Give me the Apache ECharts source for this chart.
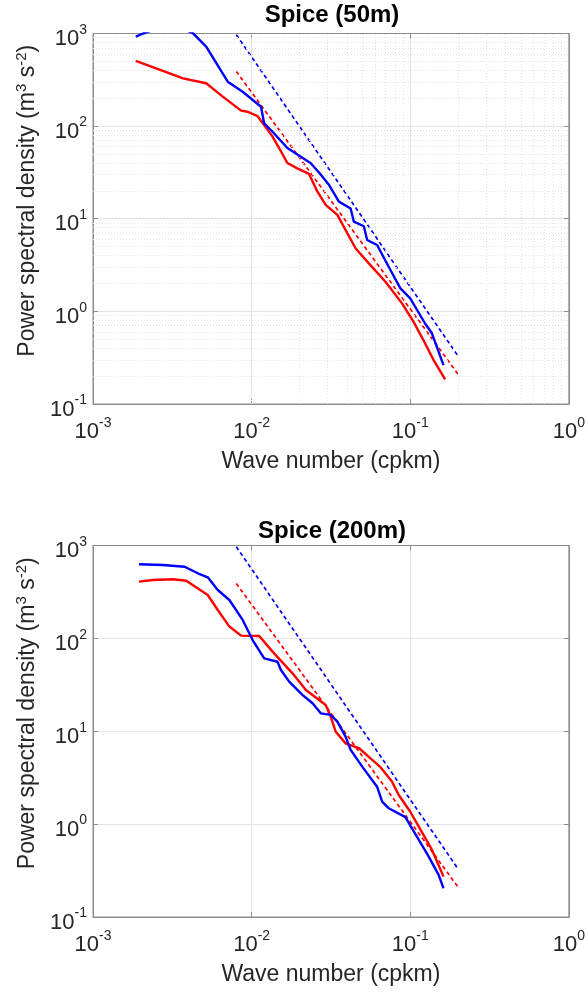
<!DOCTYPE html>
<html>
<head>
<meta charset="utf-8">
<script src="https://cdn.jsdelivr.net/npm/echarts@6/dist/echarts.min.js"></script>
<style>html,body{margin:0;padding:0;background:#fff;}#c{width:588px;height:994px;}</style>
</head>
<body>
<div id="c"></div>
<script>
// ---- Data (wave number in cpkm, PSD in m^3 s^-2) ----
const titles = ['Spice (50m)', 'Spice (200m)'];
const xTicks = [0.001, 0.01, 0.1, 1];
const yTicks = [0.1, 1, 10, 100, 1000];

// Top panel (50 m)
const k50Red = [0.00186, 0.00304, 0.00369, 0.00517, 0.00658, 0.00858, 0.00944, 0.0109, 0.0120, 0.01355, 0.0149, 0.0168, 0.0194, 0.0230, 0.0260, 0.0293, 0.0347, 0.0452, 0.0548, 0.0698, 0.0887, 0.105, 0.121, 0.140, 0.166];
const p50Red = [505, 372, 328, 290, 208, 147, 143, 128, 103, 77, 58, 40, 35, 30.5, 19.6, 14.1, 11.0, 4.8, 3.3, 2.09, 1.22, 0.77, 0.49, 0.30, 0.184];
const k50Blue = [0.00186, 0.00207, 0.0026, 0.0034, 0.00426, 0.00517, 0.00707, 0.00878, 0.01146, 0.0120, 0.01355, 0.0168, 0.0235, 0.0266, 0.0308, 0.0355, 0.0421, 0.0441, 0.0510, 0.0535, 0.0618, 0.075, 0.0867, 0.100, 0.124, 0.137, 0.162];
const p50Blue = [923, 1000, 1150, 1200, 1010, 720, 302, 235, 162, 107, 87, 58, 40, 31.6, 23.1, 15.3, 12.9, 9.3, 8.3, 5.9, 5.2, 2.8, 1.77, 1.38, 0.74, 0.58, 0.263];

// Bottom panel (200 m)
const k200Red = [0.00195, 0.00239, 0.00319, 0.00387, 0.00529, 0.00612, 0.00724, 0.00858, 0.01117, 0.01355, 0.0181, 0.0220, 0.0266, 0.0293, 0.0315, 0.0339, 0.0391, 0.0474, 0.0548, 0.0649, 0.0767, 0.0846, 0.100, 0.118, 0.137, 0.162];
const p200Red = [408, 425, 433, 418, 293, 202, 134, 107, 106, 72, 42, 27.8, 21.7, 19.2, 14.4, 9.9, 7.4, 6.6, 5.3, 4.1, 2.87, 2.06, 1.36, 0.83, 0.53, 0.272];
const k200Blue = [0.00195, 0.00276, 0.00378, 0.00458, 0.00529, 0.00612, 0.00724, 0.00878, 0.01015, 0.0120, 0.01456, 0.0153, 0.01725, 0.0209, 0.0242, 0.0273, 0.0315, 0.0347, 0.0391, 0.0421, 0.0498, 0.0618, 0.0665, 0.0732, 0.0932, 0.113, 0.1305, 0.151, 0.162];
const p200Blue = [628, 617, 591, 502, 455, 332, 259, 158, 96, 61, 56, 45.7, 34.2, 24.6, 20.0, 15.6, 15.0, 12.7, 8.75, 6.3, 4.16, 2.53, 1.75, 1.48, 1.19, 0.68, 0.45, 0.284, 0.204];

// Reference slopes (dashed straight lines in log-log)
const kFitRed = [0.008, 0.2];
const pFitRed = [390, 0.21];
const kFitBlue = [0.008, 0.2];
const pFitBlue = [970, 0.33];

// Minor grid positions (top panel)
const xMinor = [2,3,4,5,6,7,8,9].flatMap(m => [m*0.001, m*0.01, m*0.1]);
const yMinor = [2,3,4,5,6,7,8,9].flatMap(m => [m*0.1, m*1, m*10, m*100]);

// ---- Chart ----
const FONT = 'Liberation Sans';
const TXT = '#262626';
const zip = (a, b) => a.map((v, i) => [v, b[i]]);
const supLabel = v => '{b|10}{s|' + Math.round(Math.log10(v)) + '}';
const xRich = {
  b: {fontSize: 22, fontFamily: FONT, color: TXT},
  s: {fontSize: 14, fontFamily: FONT, color: TXT, padding: [0, 0, 18, 0]}
};
const yRich = {
  b: {fontSize: 22, fontFamily: FONT, color: TXT, padding: [11, 0, 0, 0]},
  s: {fontSize: 14, fontFamily: FONT, color: TXT, padding: [0, 0, 7, 0]}
};
const nameRich = {
  a: {fontSize: 23, fontFamily: FONT, color: TXT},
  s: {fontSize: 15, fontFamily: FONT, color: TXT, padding: [0, 0, 12, 0]}
};
const AX = '#8c8c8c';
const grids = [
  {left: 93, top: 33.5, width: 478, height: 370.5, show: true, borderColor: AX, borderWidth: 1, backgroundColor: '#fff'},
  {left: 93, top: 545.5, width: 478, height: 371.5, show: true, borderColor: AX, borderWidth: 1, backgroundColor: '#fff'}
];
const xAxes = [], yAxes = [];
grids.forEach((g, gi) => {
  xAxes.push({
    type: 'log', logBase: 10, min: 0.001, max: 1, gridIndex: gi, position: 'bottom',
    name: 'Wave number (cpkm)', nameLocation: 'middle', nameGap: 46,
    nameTextStyle: {fontSize: 23, fontFamily: FONT, color: TXT},
    axisLine: {show: true, lineStyle: {color: AX}},
    axisTick: {show: true, inside: true, length: 5, lineStyle: {color: AX}},
    axisLabel: {formatter: supLabel, rich: xRich, margin: 12},
    splitLine: {show: true, lineStyle: {color: '#e3e3e3', width: 1}}
  });
  yAxes.push({
    type: 'log', logBase: 10, min: 0.1, max: 1000, gridIndex: gi, position: 'left',
    name: '{a|Power spectral density (m}{s|3}{a| s}{s|-2}{a|)}', nameLocation: 'middle', nameGap: 52,
    nameTextStyle: {rich: nameRich, padding: [0, 0, 0, 36]},
    axisLine: {show: true, lineStyle: {color: AX}},
    axisTick: {show: true, inside: true, length: 5, lineStyle: {color: AX}},
    axisLabel: {formatter: supLabel, rich: yRich, margin: 6},
    splitLine: {show: true, lineStyle: {color: '#e3e3e3', width: 1}}
  });
});
// box axes (top / right) with inward ticks, no labels
grids.forEach((g, gi) => {
  xAxes.push({
    type: 'log', logBase: 10, min: 0.001, max: 1, gridIndex: gi, position: 'top',
    axisLine: {show: true, lineStyle: {color: AX}},
    axisTick: {show: true, inside: true, length: 5, lineStyle: {color: AX}},
    axisLabel: {show: false}, splitLine: {show: false}
  });
  yAxes.push({
    type: 'log', logBase: 10, min: 0.1, max: 1000, gridIndex: gi, position: 'right',
    axisLine: {show: true, lineStyle: {color: AX}},
    axisTick: {show: true, inside: true, length: 5, lineStyle: {color: AX}},
    axisLabel: {show: false}, splitLine: {show: false}
  });
});

const solid = (name, k, p, color, xi) => ({
  name, type: 'line', xAxisIndex: xi, yAxisIndex: xi, data: zip(k, p), showSymbol: false, symbol: 'none',
  clip: true, lineStyle: {color, width: 2.4}, z: 5, animation: false
});
const dashed = (name, k, p, color, xi) => ({
  name, type: 'line', xAxisIndex: xi, yAxisIndex: xi, data: zip(k, p), showSymbol: false, symbol: 'none',
  clip: true, lineStyle: {color, width: 1.7, type: [4, 3]}, z: 4, animation: false
});

const minorGrid = {
  name: 'minor', type: 'line', xAxisIndex: 0, yAxisIndex: 0, data: [], silent: true, animation: false,
  markLine: {
    symbol: 'none', silent: true, animation: false, label: {show: false},
    lineStyle: {color: '#e2e2e2', width: 1, type: [1, 2]},
    data: xMinor.map(v => ({xAxis: v})).concat(yMinor.map(v => ({yAxis: v})))
  }
};

const series = [
  minorGrid,
  dashed('fitRed50', kFitRed, pFitRed, '#ff0000', 0),
  dashed('fitBlue50', kFitBlue, pFitBlue, '#0000ff', 0),
  solid('red50', k50Red, p50Red, '#ff0000', 0),
  solid('blue50', k50Blue, p50Blue, '#0000ff', 0),
  dashed('fitRed200', kFitRed, pFitRed, '#ff0000', 1),
  dashed('fitBlue200', kFitBlue, pFitBlue, '#0000ff', 1),
  solid('red200', k200Red, p200Red, '#ff0000', 1),
  solid('blue200', k200Blue, p200Blue, '#0000ff', 1)
];

const chart = echarts.init(document.getElementById('c'), null, {renderer: 'canvas'});
chart.setOption({
  animation: false,
  backgroundColor: '#fff',
  title: [
    {text: titles[0], left: 332, top: 3, padding: 0, textAlign: 'center', textStyle: {fontSize: 24, fontWeight: 'bold', fontFamily: FONT, color: '#000'}},
    {text: titles[1], left: 332, top: 519, padding: 0, textAlign: 'center', textStyle: {fontSize: 24, fontWeight: 'bold', fontFamily: FONT, color: '#000'}}
  ],
  grid: grids,
  xAxis: xAxes,
  yAxis: yAxes,
  series
});
</script>
</body>
</html>
